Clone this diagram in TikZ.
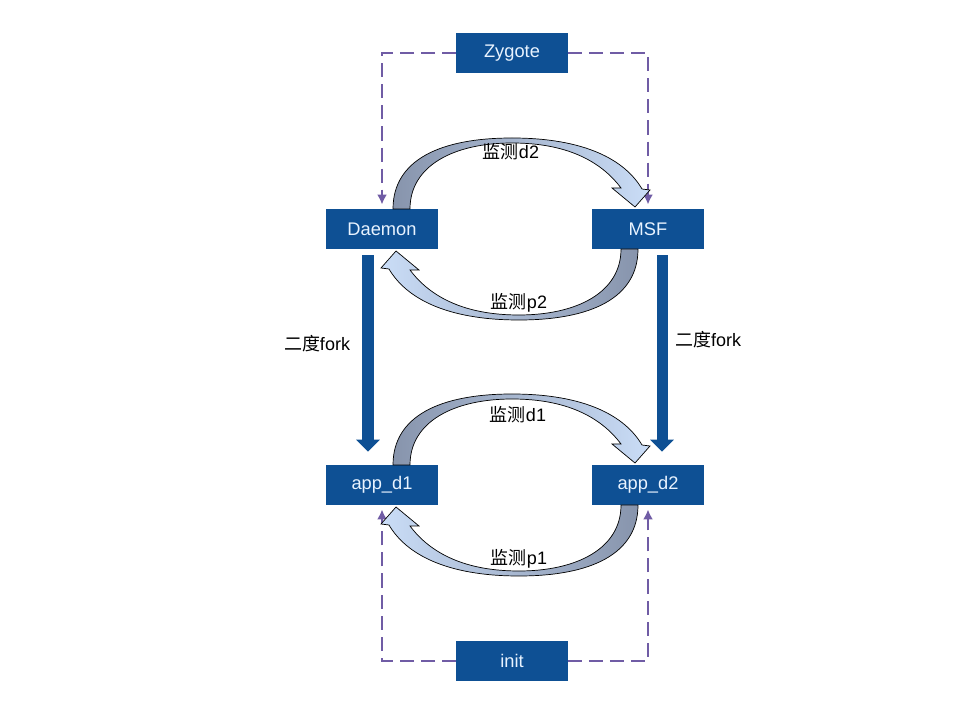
\documentclass[tikz,border=0pt]{standalone}
\usepackage{fontspec}
\setmainfont{Liberation Sans}
\newfontfamily\cjk{Noto Sans CJK SC}
\usetikzlibrary{arrows.meta}
\definecolor{boxblue}{RGB}{14,80,148}
\definecolor{boxtext}{RGB}{232,243,255}
\definecolor{dashpurple}{RGB}{112,92,165}
\definecolor{arrdark}{RGB}{135,148,172}
\definecolor{arrlight}{RGB}{202,221,247}

\begin{document}
\begin{tikzpicture}[x=0.025cm, y=-0.025cm, >=Latex,
  proc/.style={fill=boxblue, text=boxtext, minimum width=2.775cm, minimum height=1cm, inner sep=0pt, font=\fontsize{13}{15}\selectfont},
  watch/.style={draw=dashpurple, line width=1.3pt, dash pattern=on 10pt off 5pt, -{Latex[length=7pt,width=7pt]}, shorten >=3pt},
  fork/.style={draw=boxblue, line width=0.275cm, -{Triangle[width=0.58cm,length=0.3cm]}},
  monitor/.style={draw=black, line width=0.5pt},
  lbl/.style={font=\fontsize{12.8}{15}\selectfont}]
\useasboundingbox (0,0) rectangle (960,720);
\node[proc] (zygote) at (512,53) {Zygote};
\node[proc] (daemon) at (382,229) {Daemon};
\node[proc] (msf) at (648,229) {MSF};
\node[proc] (appdone) at (382,485) {app\_d1};
\node[proc] (appdtwo) at (648,485) {app\_d2};
\node[proc] (init) at (512,661) {init};
% dashed parent links
\draw[watch] (zygote.west) -| (daemon.north);
\draw[watch] (zygote.east) -| (msf.north);
\draw[watch] (init.west) -| (appdone.south);
\draw[watch] (init.east) -| (appdtwo.south);
% double fork
\draw[fork] ([xshift=-0.35cm,yshift=-0.15cm]daemon.south) -- ([xshift=-0.35cm,yshift=0.325cm]appdone.north);
\draw[fork] ([xshift=0.35cm,yshift=-0.15cm]msf.south) -- ([xshift=0.35cm,yshift=0.325cm]appdtwo.north);
\node[lbl] (forkl) at (317,344) {{\cjk 二度}fork};
\node[lbl] (forkr) at (708,340) {{\cjk 二度}fork};
% curved monitor arrows
\foreach \dy in {0,256}{
  \foreach \rot/\lc/\rc in {0/arrdark/arrlight,180/arrlight/arrdark}{
    \draw[monitor, left color=\lc, right color=\rc, shift={(0,\dy)}, rotate around={\rot:(515.5,229)}]
      (393,209) .. controls (393,160) and (440,138) .. (512,138)
      .. controls (585,138) and (625,160) .. (642,189)
      -- (650,190) -- (635,207) -- (612,188) -- (621,188)
      .. controls (600,160) and (565,143) .. (512,143)
      .. controls (455,143) and (410,165) .. (410,209) -- cycle;
  }
}
\foreach \n/\t/\x/\y in {mond2/d2/511/152, monp2/p2/519/303, mond1/d1/518/415, monp1/p1/519/559}
  \node[lbl] (\n) at (\x,\y) {{\cjk 监测}\t};
\end{tikzpicture}
\end{document}
